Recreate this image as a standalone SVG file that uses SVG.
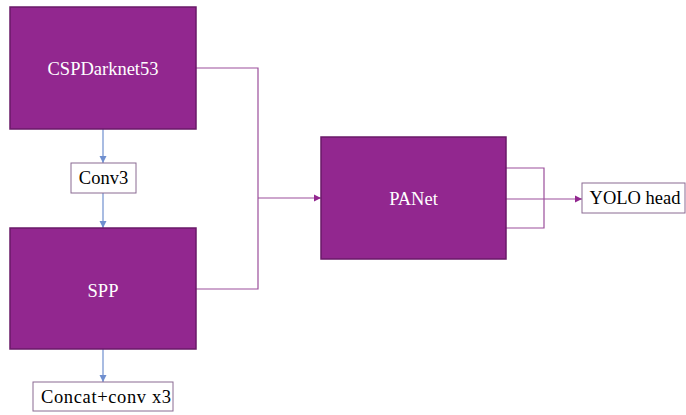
<svg xmlns="http://www.w3.org/2000/svg" width="686" height="415" viewBox="0 0 686 415">
  <style>
    .block { fill: #92278f; stroke: #6a1a68; stroke-width: 1.5; }
    .label { fill: #ffffff; font-size: 18.5px; text-anchor: middle; dominant-baseline: central; }
    .tag { fill: #ffffff; stroke: #8a6a92; stroke-width: 1; }
    .tagtext { fill: #000000; font-size: 18.5px; text-anchor: middle; dominant-baseline: central; }
    .wire { fill: none; stroke: #9b4f9b; stroke-width: 1.2; }
    .flow { fill: none; stroke: #6f8fcf; stroke-width: 1.2; }
  </style>
  <defs>
    <marker id="arrowPurple" markerWidth="8" markerHeight="8" refX="7" refY="4" orient="auto" markerUnits="userSpaceOnUse">
      <path d="M0,0.5 L7,4 L0,7.5 Z" fill="#92278f"/>
    </marker>
    <marker id="arrowBlue" markerWidth="8" markerHeight="8" refX="7" refY="4" orient="auto" markerUnits="userSpaceOnUse">
      <path d="M0,0.5 L7,4 L0,7.5 Z" fill="#6f8fcf"/>
    </marker>
  </defs>

  <g id="connectors">
    <path class="flow" d="M103,129 L103,163" marker-end="url(#arrowBlue)"/>
    <path class="flow" d="M103,193 L103,228" marker-end="url(#arrowBlue)"/>
    <path class="flow" d="M103,349 L103,382" marker-end="url(#arrowBlue)"/>
    <path class="wire" d="M196,68 L258,68 L258,289 L196,289"/>
    <path class="wire" d="M258,198 L321,198" marker-end="url(#arrowPurple)"/>
    <path class="wire" d="M506,168 L544,168 L544,228 L506,228"/>
    <path class="wire" d="M506,199 L582,199" marker-end="url(#arrowPurple)"/>
  </g>

  <g font-family="'Liberation Serif', 'DejaVu Serif', serif">
    <g id="cspdarknet53">
      <rect class="block" x="10" y="7" width="186" height="122"/>
      <text class="label" x="103" y="69">CSPDarknet53</text>
    </g>

    <g id="conv3">
      <rect class="tag" x="71" y="163" width="65" height="30"/>
      <text class="tagtext" x="103.5" y="178">Conv3</text>
    </g>

    <g id="spp">
      <rect class="block" x="10" y="228" width="186" height="121"/>
      <text class="label" x="103" y="291">SPP</text>
    </g>

    <g id="concat">
      <rect class="tag" x="33" y="382" width="140" height="29"/>
      <text class="tagtext" x="106" y="396.5" textLength="130" lengthAdjust="spacing">Concat+conv x3</text>
    </g>

    <g id="panet">
      <rect class="block" x="321" y="137" width="185" height="122"/>
      <text class="label" x="413.5" y="199">PANet</text>
    </g>

    <g id="yolohead">
      <rect class="tag" x="582" y="183" width="103" height="30"/>
      <text class="tagtext" x="635" y="198">YOLO head</text>
    </g>
  </g>
</svg>
